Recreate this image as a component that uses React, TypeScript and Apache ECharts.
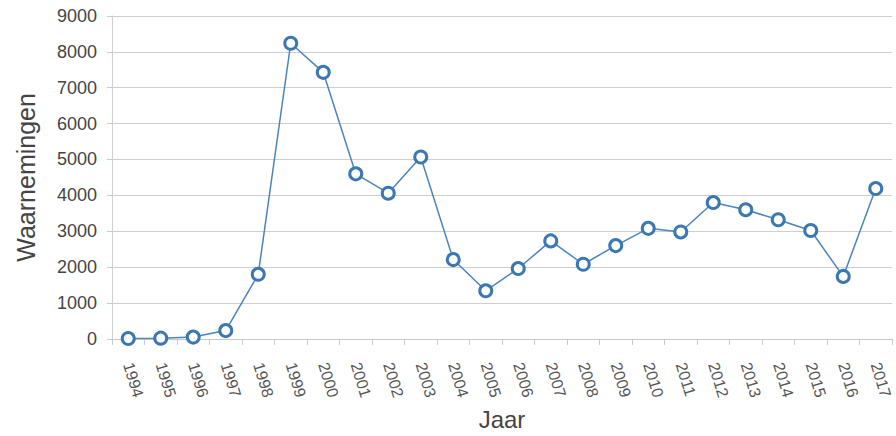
import React, { useEffect, useRef } from "react";
import * as echarts from "echarts";

const years = [
  "1994", "1995", "1996", "1997", "1998", "1999", "2000", "2001", "2002", "2003", "2004", "2005",
  "2006", "2007", "2008", "2009", "2010", "2011", "2012", "2013", "2014", "2015", "2016", "2017",
];
const waarnemingen = [
  10, 20, 50, 230, 1800, 8240, 7430, 4600, 4060, 5070, 2210, 1340,
  1960, 2730, 2080, 2600, 3080, 2980, 3800, 3600, 3320, 3020, 1740, 4190,
];
const yMin = 0;
const yMax = 9000;
const yInterval = 1000;

export default function App() {
  const ref = useRef<HTMLDivElement>(null);
  useEffect(() => {
    if (!ref.current) return;
    const chart = echarts.init(ref.current, undefined, { renderer: "svg" });
    const font = "'Liberation Sans', Arial, sans-serif";
    chart.setOption({
      animation: false,
      backgroundColor: "#ffffff",
      grid: { left: 112, right: 4, top: 16, bottom: 91, containLabel: false },
      xAxis: {
        type: "category",
        data: years,
        boundaryGap: true,
        name: "Jaar",
        nameLocation: "middle",
        nameGap: 68,
        nameTextStyle: { fontSize: 24, color: "#444", fontFamily: font },
        axisLine: { show: true, lineStyle: { color: "#c8c8c8", width: 1 } },
        axisTick: { show: true, length: 6, alignWithLabel: false, lineStyle: { color: "#c8c8c8" } },
        axisLabel: {
          rotate: -73,
          margin: 24,
          fontSize: 16,
          color: "#555",
          fontFamily: font,
          interval: 0,
        },
        splitLine: { show: false },
      },
      yAxis: {
        type: "value",
        min: yMin,
        max: yMax,
        interval: yInterval,
        name: "Waarnemingen",
        nameLocation: "middle",
        nameGap: 74,
        nameTextStyle: { fontSize: 25, color: "#444", fontFamily: font },
        axisLine: { show: true, lineStyle: { color: "#d0d0d0", width: 1 } },
        axisTick: { show: true, length: 5, lineStyle: { color: "#c8c8c8" } },
        axisLabel: {
          margin: 15,
          fontSize: 18,
          color: "#444",
          fontFamily: font,
          formatter: (v: number) => String(v),
        },
        splitLine: { show: true, lineStyle: { color: "#cfcfcf", width: 1 } },
      },
      series: [
        {
          type: "line",
          data: waarnemingen,
          symbol: "circle",
          symbolSize: 12,
          showAllSymbol: true,
          lineStyle: { color: "#4a84bd", width: 1.5 },
          itemStyle: { color: "#ffffff", borderColor: "#3b78b2", borderWidth: 3 },
        },
      ],
    });
    return () => chart.dispose();
  }, []);
  return (
    <div
      ref={ref}
      style={{ position: "absolute", left: 0, top: 0, width: 896, height: 436 }}
    />
  );
}
